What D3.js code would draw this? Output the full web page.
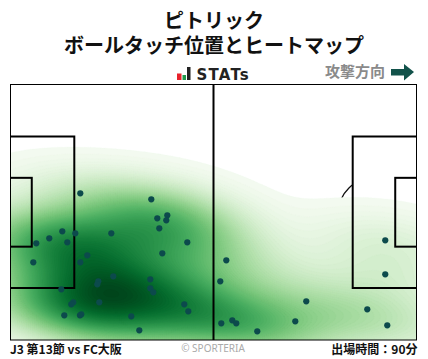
<!DOCTYPE html>
<html><head><meta charset="utf-8">
<script src="https://cdn.jsdelivr.net/npm/d3@7"></script>
<style>html,body{margin:0;padding:0;background:#fff}svg{display:block}</style>
</head><body><svg id="c" width="428" height="359"></svg>
<script>
const titleLines = ["ピトリック", "ボールタッチ位置とヒートマップ"];
const footLeft = "J3 第13節 vs FC大阪";
const footRight = "出場時間：90分";
const credit = "© SPORTERIA";
const attackLabel = "攻撃方向";
const logoText = "STATs";
const touchX = [18.05,36.41,40.55,37.96,40.29,38.48,13.40,16.76,26.07,10.03,14.69,6.67,45.72,39.26,19.86,5.90,18.05,26.58,22.71,22.45,36.15,36.15,36.93,13.14,16.24,15.72,22.96,44.94,45.98,13.91,18.31,17.97,31.24,33.31,55.81,54.25,76.49,54.51,57.36,58.39,63.82,73.65,92.27,97.44,96.92,96.92];
const touchY = [28.96,30.56,34.82,35.62,36.15,38.28,39.08,39.61,39.61,40.94,42.01,42.27,42.01,44.93,45.47,47.33,47.33,51.06,52.39,53.19,51.86,54.25,55.32,54.52,57.98,58.51,57.98,58.51,60.37,61.44,61.17,61.44,61.71,65.43,46.80,52.39,57.71,63.57,62.77,63.57,65.70,63.04,59.84,64.10,41.47,50.53];
const pitchLength = 105, pitchWidth = 68;

const frame = {l:10.5, r:416.5, t:84.5, b:340};
const x = d3.scaleLinear().domain([0,pitchLength]).range([frame.l,frame.r]);
const y = d3.scaleLinear().domain([0,pitchWidth]).range([frame.t,frame.b]);
const svg = d3.select("#c");
const JP = "'Noto Sans CJK JP','Noto Sans',sans-serif";

svg.append("g").selectAll("text").data(titleLines).join("text")
  .attr("x",214).attr("y",(d,i)=>27.5+i*25).attr("text-anchor","middle")
  .attr("font-family",JP).attr("font-weight",700).attr("font-size",20).attr("fill","#111").text(d=>d);

// logo
const logo = svg.append("g");
logo.selectAll("rect").data([[177,73.5,4.5,6.5,"#e8212b"],[182.5,75,3.5,5,"#1f9a4a"],[187,67,3.5,13,"#222"]]).join("rect")
  .attr("x",d=>d[0]).attr("y",d=>d[1]).attr("width",d=>d[2]).attr("height",d=>d[3]).attr("fill",d=>d[4]);
logo.append("text").attr("x",196.5).attr("y",79.5).attr("font-family","'DejaVu Sans',sans-serif").attr("font-weight",700)
  .attr("font-size",15).attr("letter-spacing",1.2).attr("fill","#222").text(logoText);

svg.append("text").attr("x",325).attr("y",77).attr("font-family",JP).attr("font-weight",700)
  .attr("font-size",15).attr("fill","#8a8a8a").text(attackLabel);
svg.append("path").attr("d",d3.line()([[391,69],[404,69],[404,64],[414,72],[404,80.5],[404,75.5],[391,75.5]])+"Z").attr("fill","#12524a");

const defs = svg.append("defs");
defs.append("clipPath").attr("id","pitch").append("rect").attr("x",frame.l).attr("y",frame.t).attr("width",frame.r-frame.l).attr("height",frame.b-frame.t);
defs.append("clipPath").attr("id","outsideBoxes").append("rect").attr("x",x(16.5)).attr("y",frame.t).attr("width",x(pitchLength-16.5)-x(16.5)).attr("height",frame.b-frame.t);

const pitch = svg.append("g").attr("clip-path","url(#pitch)");

const lineG = pitch.append("g").attr("clip-path","url(#outsideBoxes)").attr("fill","none").attr("stroke","#111").attr("stroke-width",1.3);
[[x(pitchLength-11),y(34)],[x(11),y(34)],[x(pitchLength/2),y(34)]].forEach(c=>{
  lineG.append("ellipse").attr("cx",c[0]).attr("cy",c[1]).attr("rx",x(9.15)-x(0)).attr("ry",y(9.15)-y(0));
});

// Gaussian kernel density using the sample covariance of the touches
const bwFactor = 0.56, cell = 0.5;
const mx0 = d3.mean(touchX), my0 = d3.mean(touchY), n = touchX.length;
const cxx = d3.sum(touchX,v=>(v-mx0)**2)/(n-1)*bwFactor*bwFactor;
const cyy = d3.sum(touchY,v=>(v-my0)**2)/(n-1)*bwFactor*bwFactor;
const cxy = d3.sum(touchX,(v,i)=>(v-mx0)*(touchY[i]-my0))/(n-1)*bwFactor*bwFactor;
const det = cxx*cyy-cxy*cxy;
const gx = Math.ceil(pitchLength/cell)+41, gy = Math.ceil(pitchWidth/cell)+41, off = 20*cell;
const grid = new Float64Array(gx*gy);
for (let j=0;j<gy;j++) for (let i=0;i<gx;i++){
  const mx = i*cell-off, my = j*cell-off; let s = 0;
  for (let k=0;k<n;k++){
    const a=mx-touchX[k], b=my-touchY[k];
    s += Math.exp(-0.5*(cyy*a*a-2*cxy*a*b+cxx*b*b)/det);
  }
  grid[j*gx+i]=s;
}
const maxV = d3.max(grid);
const levels = d3.range(0.012,1,0.012).map(t=>t*maxV);
const color = v=>d3.interpolateGreens(Math.pow(v/maxV,0.8));
const projection = d3.geoTransform({point(px,py){
  this.stream.point(x(px*cell-off), y(py*cell-off));
}});
const conts = d3.contours().size([gx,gy]).thresholds(levels)(grid);
pitch.append("g").selectAll("path").data(conts).join("path")
  .attr("d",d3.geoPath(projection)).attr("fill",d=>color(d.value)).attr("stroke",d=>color(d.value)).attr("stroke-width",0.3);

// pitch markings
const mark = pitch.append("g").attr("fill","none").attr("stroke","#000").attr("stroke-width",2);
const box = (x0,x1,y0,y1)=>mark.append("rect").attr("x",Math.min(x(x0),x(x1))).attr("y",y(y0)).attr("width",Math.abs(x(x1)-x(x0))).attr("height",y(y1)-y(y0));
box(-2,16.5,13.84,54.16); box(-2,5.5,24.84,43.16);
box(pitchLength-16.5,pitchLength+2,13.84,54.16); box(pitchLength-5.5,pitchLength+2,24.84,43.16);
mark.append("line").attr("x1",x(pitchLength/2)).attr("x2",x(pitchLength/2)).attr("y1",y(0)).attr("y2",y(pitchWidth));

pitch.append("g").selectAll("circle").data(touchX.map((v,i)=>[x(v),y(touchY[i])])).join("circle")
  .attr("cx",d=>d[0]).attr("cy",d=>d[1]).attr("r",3.1).attr("fill","#0c4a4c");

svg.append("rect").attr("x",frame.l).attr("y",frame.t).attr("width",frame.r-frame.l).attr("height",frame.b-frame.t)
  .attr("fill","none").attr("stroke","#000").attr("stroke-width",1);

svg.append("text").attr("x",10).attr("y",354).attr("font-family",JP).attr("font-weight",700).attr("font-size",12).attr("fill","#111").text(footLeft);
svg.append("text").attr("x",417.5).attr("y",354).attr("text-anchor","end").attr("font-family",JP).attr("font-weight",700).attr("font-size",12).attr("fill","#111").text(footRight);
svg.append("text").attr("x",213).attr("y",352).attr("text-anchor","middle").attr("font-family","'Noto Sans',sans-serif").attr("font-size",10).attr("fill","#aaa").text(credit);
</script></body></html>
